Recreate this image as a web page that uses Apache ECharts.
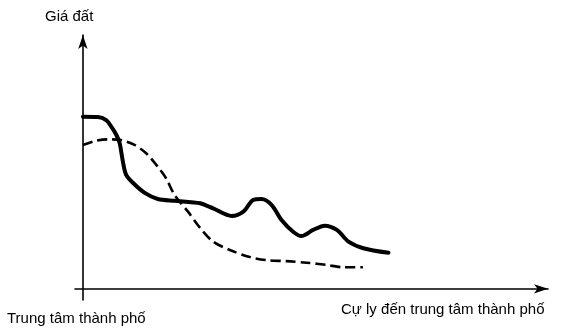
<!DOCTYPE html>
<html><head><meta charset="utf-8">
<script src="https://cdn.jsdelivr.net/npm/echarts@6/dist/echarts.min.js"></script>
<style>html,body{margin:0;padding:0;background:#fff}#c{width:566px;height:328px}</style>
</head><body><div id="c"></div>
<script>
// distance from centre (arbitrary units), land price (arbitrary units)
const solidX = [0, 3.2, 5.0, 6.1, 7.2, 7.9, 8.6, 9.3, 10.8, 13.3, 16.1, 19.7, 23.3, 25.2, 28.0, 32.0, 34.5, 36.6, 38.4, 40.6, 42.7, 45.2, 47.0, 49.5, 52.0, 54.6, 57.1, 60.3, 65.7];
const solidY = [67.8, 67.7, 66.5, 63.9, 60.6, 57.4, 50.1, 44.9, 41.7, 37.8, 35.4, 34.7, 34.1, 33.7, 31.7, 28.7, 30.4, 35.0, 35.4, 33.0, 27.1, 22.5, 20.8, 23.2, 24.9, 23.2, 18.6, 16.0, 14.2];
const dashX = [0, 2.5, 5.4, 8.2, 11.1, 13.6, 16.1, 17.9, 19.7, 22.6, 25.2, 28.0, 31.6, 35.9, 39.5, 43.8, 48.1, 52.4, 56.0, 60.2];
const dashY = [56.7, 58.2, 58.9, 58.6, 56.7, 53.4, 48.1, 43.5, 37.0, 30.4, 24.0, 18.6, 15.3, 12.5, 11.3, 10.9, 10.3, 9.4, 8.5, 8.5];
const labelY = 'Giá đất';
const labelOrigin = 'Trung tâm thành phố';
const labelX = 'Cự ly đến trung tâm thành phố';

const zip = (xs, ys) => xs.map((x, i) => [x, ys[i]]);
const chart = echarts.init(document.getElementById('c'));
const font = '"Liberation Sans", Arial, sans-serif';
chart.setOption({
  animation: false,
  grid: {left: 75, top: 35, width: 473, height: 265},
  xAxis: {type: 'value', min: -1.7, max: 100,
    axisLine: {onZero: true, lineStyle: {color: '#000', width: 1.6}, symbol: ['none', 'arrow'], symbolSize: [7, 14]},
    axisTick: {show: false}, axisLabel: {show: false}, splitLine: {show: false}},
  yAxis: {type: 'value', min: -4.4, max: 100,
    axisLine: {onZero: true, lineStyle: {color: '#000', width: 1.6}, symbol: ['none', 'arrow'], symbolSize: [7, 14]},
    axisTick: {show: false}, axisLabel: {show: false}, splitLine: {show: false}},
  series: [
    {type: 'line', data: zip(solidX, solidY), smooth: 0.3, showSymbol: false,
     lineStyle: {color: '#000', width: 4, cap: 'round', join: 'round'}},
    {type: 'line', data: zip(dashX, dashY), smooth: 0.3, showSymbol: false,
     lineStyle: {color: '#000', width: 2.6, type: [10, 5]}}
  ],
  graphic: [
    {type: 'text', left: 45, top: 9, style: {text: labelY, font: '15px ' + font, fill: '#000'}},
    {type: 'text', left: 7, top: 311, style: {text: labelOrigin, font: '15px ' + font, fill: '#000'}},
    {type: 'text', left: 341, top: 302, style: {text: labelX, font: '15px ' + font, fill: '#000'}}
  ]
});
</script></body></html>
